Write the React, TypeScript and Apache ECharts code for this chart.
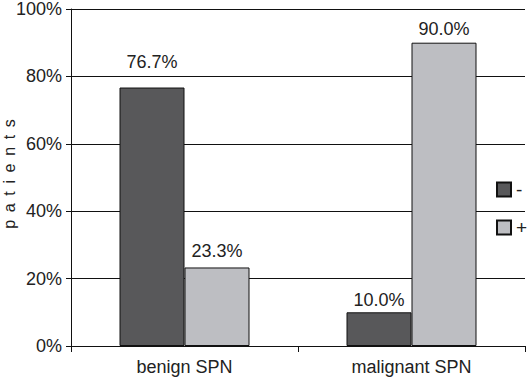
import React, { useEffect, useRef } from "react";
import * as echarts from "echarts";

const categories = ["benign SPN", "malignant SPN"];
const seriesNames = ["-", "+"];
const negativeValues = [76.7, 10.0];
const positiveValues = [23.3, 90.0];
const yTicks = { min: 0, max: 100, interval: 20 };

// label offsets above bars (style only)
const negativeLabelDistance = [17, 3];
const positiveLabelDistance = [7, 5];

const FONT = "Liberation Sans, Arial, sans-serif";

export default function App() {
  const ref = useRef<HTMLDivElement>(null);
  useEffect(() => {
    document.body.style.margin = "0";
    const chart = echarts.init(ref.current!, null, { renderer: "svg" });
    const labelCfg = {
      show: true,
      position: "top",
      fontSize: 18,
      fontFamily: FONT,
      color: "#222",
      formatter: (p: any) => p.value.toFixed(1) + "%",
    };
    chart.setOption({
      animation: false,
      backgroundColor: "#fff",
      grid: { left: 71, top: 8, right: 4, bottom: 33 },
      legend: {
        orient: "vertical",
        left: 496,
        top: 180,
        padding: 0,
        itemWidth: 14,
        itemHeight: 14,
        itemGap: 19,
        icon: "rect",
        textStyle: { fontSize: 19, lineHeight: 17, fontFamily: FONT, color: "#222" },
        data: seriesNames,
      },
      xAxis: {
        type: "category",
        data: categories,
        axisLine: { lineStyle: { color: "#111", width: 1 } },
        axisTick: { show: true, length: 6, lineStyle: { color: "#111" } },
        axisLabel: { fontSize: 18, fontFamily: FONT, color: "#222", margin: 12 },
      },
      yAxis: {
        type: "value",
        min: yTicks.min,
        max: yTicks.max,
        interval: yTicks.interval,
        axisLine: { show: true, lineStyle: { color: "#111", width: 1 } },
        axisTick: { show: true, length: 5, lineStyle: { color: "#111" } },
        axisLabel: { fontSize: 18, fontFamily: FONT, color: "#222", margin: 9, formatter: "{value}%" },
        splitLine: { show: true, lineStyle: { color: "#111", width: 1 } },
      },
      graphic: [
        {
          type: "text",
          x: 9,
          y: 174,
          rotation: Math.PI / 2,
          style: {
            text: "p \u2009a \u2009t \u2009i \u2009e \u2009n \u2009t \u2009s",
            fontSize: 16,
            fontFamily: FONT,
            fill: "#222",
            align: "center",
            verticalAlign: "middle",
          },
        },
      ],
      series: [
        {
          name: seriesNames[0],
          type: "bar",
          data: negativeValues.map((v, i) => ({ value: v, label: { distance: negativeLabelDistance[i] } })),
          barWidth: 65,
          barGap: 0,
          itemStyle: { color: "#58585a", borderColor: "#111", borderWidth: 1 },
          label: labelCfg,
        },
        {
          name: seriesNames[1],
          type: "bar",
          data: positiveValues.map((v, i) => ({ value: v, label: { distance: positiveLabelDistance[i] } })),
          barWidth: 65,
          barGap: 0,
          itemStyle: { color: "#bdbec2", borderColor: "#111", borderWidth: 1 },
          label: labelCfg,
        },
      ],
    });
    return () => chart.dispose();
  }, []);
  return <div ref={ref} style={{ width: 529, height: 379 }} />;
}
